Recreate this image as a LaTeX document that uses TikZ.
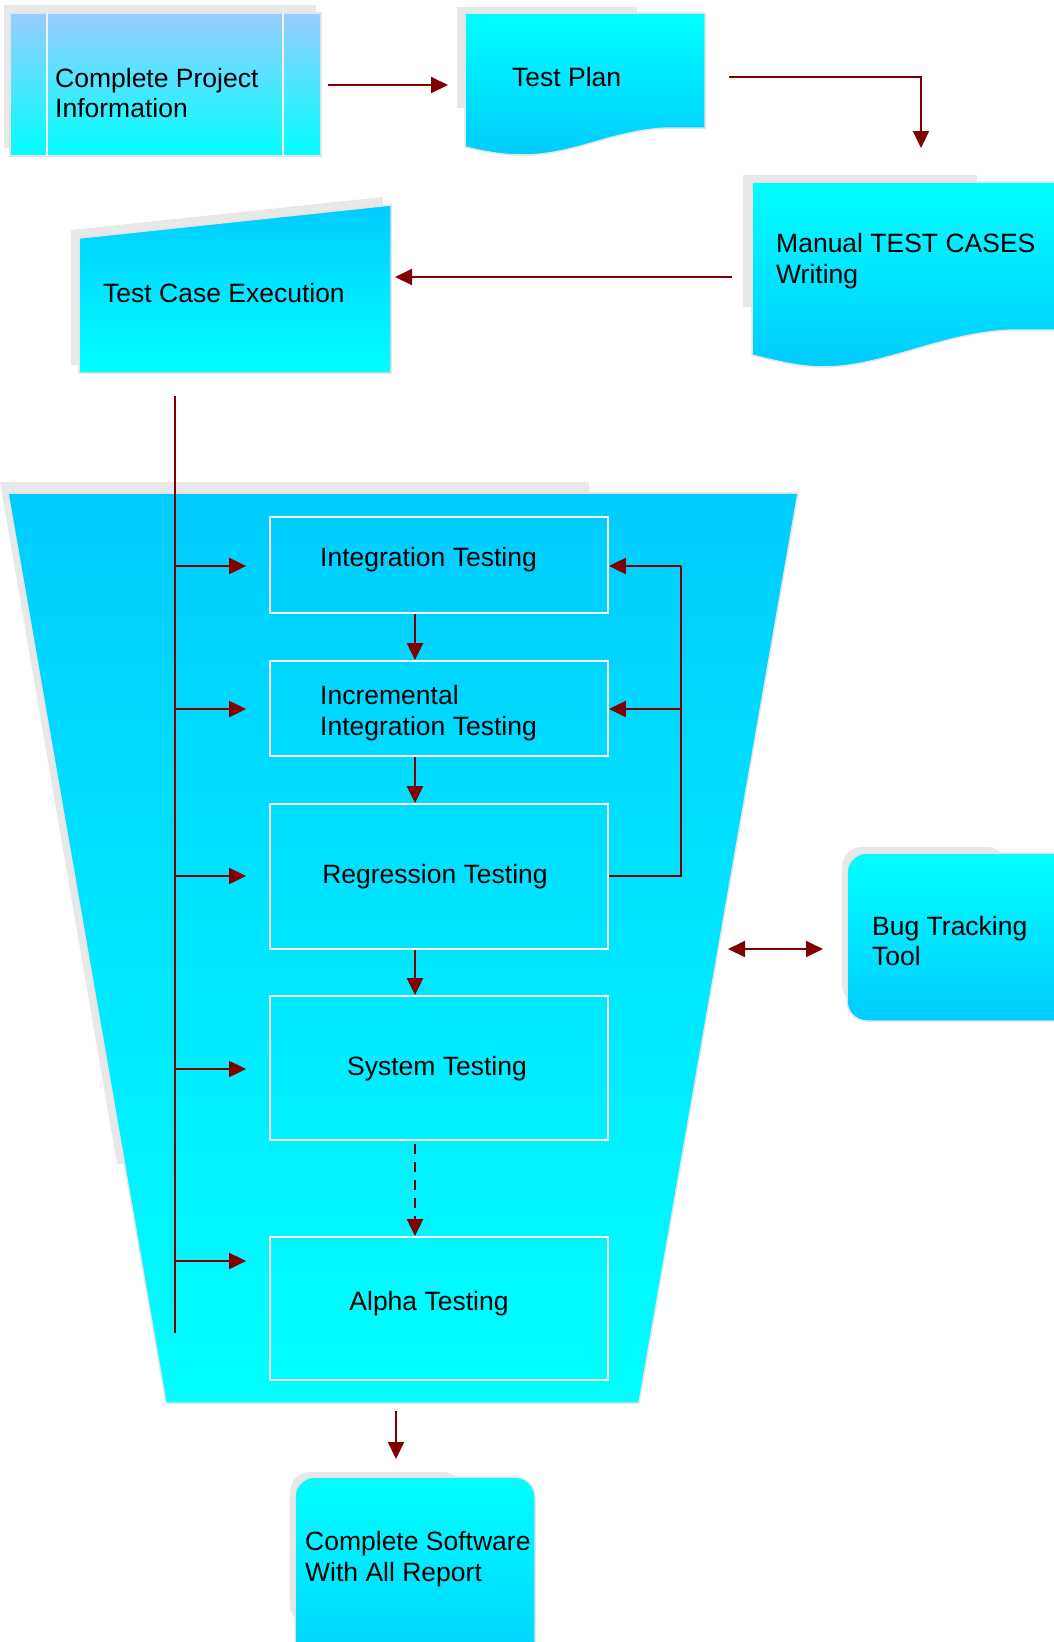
\documentclass[tikz,border=0pt]{standalone}
\usepackage{fontspec}
\setmainfont{Liberation Sans}
\usetikzlibrary{arrows.meta}
\definecolor{shad}{HTML}{E8E8E8}
\definecolor{edgec}{HTML}{E4E4E4}
\definecolor{arrc}{HTML}{800000}
\definecolor{lblue}{HTML}{99CCFF}
\definecolor{cyanA}{HTML}{00FFFF}
\definecolor{cyanB}{HTML}{00CCFF}
\tikzset{
  shadowfill/.style={fill=shad, draw=none},
  shapeedge/.style={draw=edgec, line width=1.5pt},
  conn/.style={draw=arrc, line width=2pt, -{Triangle[length=17pt,width=16pt]}},
  dconn/.style={draw=arrc, line width=2pt, {Triangle[length=17pt,width=16pt]}-{Triangle[length=17pt,width=16pt]}},
  plainline/.style={draw=arrc, line width=2pt},
  inbox/.style={draw=white, line width=1.8pt, minimum width=338pt, inner sep=0pt},
  lbl/.style={font=\fontsize{26.5}{30.5}\selectfont, align=left, inner sep=0pt}
}
\begin{document}
\begin{tikzpicture}[x=1pt,y=-1pt]
\useasboundingbox (0,0) rectangle (1053,1642);

% Complete Project Information (predefined process)
\path[shadowfill] (4,5) rectangle (316,148);
\path[top color=lblue, bottom color=cyanA, shapeedge] (10,13) rectangle (321,156);
\draw[draw=white!90!gray, line width=1.5pt] (47,13) -- (47,156) (283,13) -- (283,156);
\node[lbl, anchor=west] (cpi) at (55,93) {Complete Project\\Information};

% Test Plan (document)
\path[shadowfill] (457,7) rectangle (637,108);
\path[top color=cyanA, bottom color=cyanB, shapeedge]
  (465,13) -- (705,13) -- (705,128) -- (670,128)
  .. controls (615,129) and (575,155) .. (523,155)
  .. controls (500,155) and (482,151) .. (465,147) -- cycle;
\node[lbl, anchor=west] (tp) at (512,77) {Test Plan};

% Manual TEST CASES Writing (document)
\path[shadowfill] (743,175) rectangle (977,307);
\path[top color=cyanA, bottom color=cyanB, shapeedge]
  (752,182) -- (1070,182) -- (1070,330) -- (1015,330)
  .. controls (945,331) and (885,367) .. (823,367)
  .. controls (800,367) and (776,361) .. (752,355) -- cycle;
\node[lbl, anchor=west] (man) at (776,261) {Manual TEST CASES\\Writing};

% Test Case Execution (manual input)
\path[shadowfill] (71,230) -- (383,197) -- (383,365) -- (71,365) -- cycle;
\path[top color=cyanB, bottom color=cyanA, shapeedge] (79,238) -- (391,205) -- (391,373) -- (79,373) -- cycle;
\node[lbl, anchor=west] (tce) at (103,293) {Test Case Execution};

% Funnel
\path[shadowfill] (0,482) -- (589,482) -- (589,1164) -- (117,1164) -- cycle;
\path[top color=cyanB, bottom color=cyanA, shapeedge] (8,493) -- (798,493) -- (639,1403) -- (166,1403) -- cycle;

% inner boxes
\node[inbox, minimum height=96pt] (intg) at (439,565) {};
\node[inbox, minimum height=95pt] (incr) at (439,708.5) {};
\node[inbox, minimum height=145pt] (regr) at (439,876.5) {};
\node[inbox, minimum height=144pt] (syst) at (439,1068) {};
\node[inbox, minimum height=143pt] (alph) at (439,1308.5) {};
\node[lbl] (intgT) at (428.5,560) {Integration Testing};
\node[lbl, anchor=west] (incrT) at (320,713) {Incremental\\Integration Testing};
\node[lbl] (regrT) at (435,877) {Regression Testing};
\node[lbl] (systT) at (437,1069) {System Testing};
\node[lbl] (alphT) at (429,1304) {Alpha Testing};

% Bug Tracking Tool
\path[shadowfill, rounded corners=20pt] (842,847) rectangle (1007,1005);
\path[top color=cyanA, bottom color=cyanB, shapeedge, rounded corners=20pt] (847,853) rectangle (1075,1021);
\node[lbl, anchor=west] (bug) at (872,941) {Bug Tracking\\Tool};

% Complete Software
\path[shadowfill, rounded corners=20pt] (290,1472) rectangle (463,1625);
\path[top color=cyanA, bottom color=cyanB, shapeedge, rounded corners=20pt] (295,1477) rectangle (535,1690);
\node[lbl, anchor=west] (cs) at (305,1559) {Complete Software\\With All Report};

% connector end points
\coordinate (cpiR) at (328,85);
\coordinate (tpL) at (448,85);
\coordinate (tpR) at (729,77);
\coordinate (bend1) at (921,77);
\coordinate (manT) at (921,148);
\coordinate (manL) at (732,277);
\coordinate (tceR) at (395,277);
\coordinate (bustop) at (175,396);
\coordinate (busbot) at (175,1333);
\coordinate (fbtop) at (681,566);
\coordinate (fbmid) at (681,709);
\coordinate (fbbot) at (681,876);
\coordinate (funL) at (728,949);
\coordinate (bugL) at (823,949);
\coordinate (funB) at (396,1411);
\coordinate (csT) at (396,1459);

% connectors
\draw[conn] (cpiR) -- (tpL);
\draw[conn] (tpR) -- (bend1) -- (manT);
\draw[conn] (manL) -- (tceR);
\draw[plainline] (bustop) -- (busbot);
\foreach \b/\yy in {intg/566, incr/709, regr/876, syst/1069, alph/1261}{
  \draw[conn, shorten >=23pt] (175,\yy) -- (\b.west |- 0,\yy);
}
\draw[plainline] (regr.east |- fbbot) -- (fbbot) -- (fbtop);
\draw[conn] (fbtop) -- (fbtop -| intg.east);
\draw[conn] (fbmid) -- (fbmid -| incr.east);
\draw[conn] ([xshift=-24pt]intg.south) -- ([xshift=-24pt]incr.north);
\draw[conn] ([xshift=-24pt]incr.south) -- ([xshift=-24pt]regr.north);
\draw[conn] ([xshift=-24pt]regr.south) -- ([xshift=-24pt]syst.north);
\draw[conn, dash pattern=on 10pt off 8pt, shorten <=3pt] ([xshift=-24pt]syst.south) -- ([xshift=-24pt]alph.north);
\draw[dconn] (funL) -- (bugL);
\draw[conn] (funB) -- (csT);
\end{tikzpicture}
\end{document}
